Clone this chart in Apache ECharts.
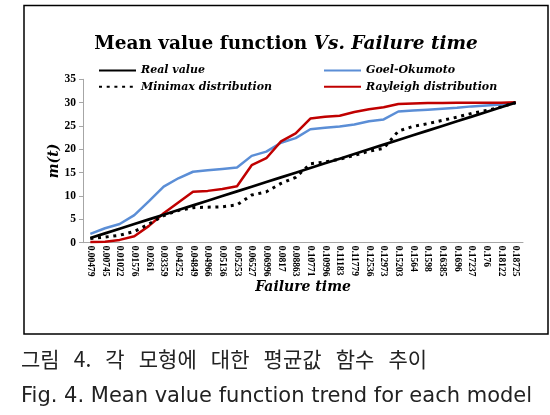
<!DOCTYPE html>
<html>
<head>
<meta charset="utf-8">
<script src="https://cdn.jsdelivr.net/npm/echarts@6/dist/echarts.min.js"></script>
<style>
html,body{margin:0;padding:0;background:#fff;}
#chart{width:550px;height:415px;}
</style>
</head>
<body>
<div id="chart"></div>
<script>
const categories = ['0.00479','0.00745','0.01022','0.01576','0.0261','0.03359','0.04252','0.04849','0.04966','0.05136','0.05253','0.06527','0.06996','0.0817','0.08863','0.10771','0.10996','0.11183','0.11779','0.12536','0.12973','0.15203','0.1564','0.1598','0.16385','0.1696','0.17237','0.176','0.18122','0.18725'];
const realValue = [1,2,3,4,5,6,7,8,9,10,11,12,13,14,15,16,17,18,19,20,21,22,23,24,25,26,27,28,29,30];
const goelOkumoto = [1.9,3.1,4.0,5.9,8.9,12.0,13.8,15.2,15.5,15.8,16.1,18.6,19.5,21.4,22.4,24.3,24.6,24.9,25.3,26.0,26.4,28.1,28.3,28.5,28.7,28.9,29.2,29.4,29.6,29.9];
const minimax = [0.9,1.2,1.6,2.4,4.0,5.8,6.9,7.5,7.6,7.7,8.1,10.2,10.9,12.7,14.0,16.9,17.3,17.9,18.7,19.6,20.2,23.9,24.9,25.5,26.2,26.9,27.7,28.3,29.1,30.0];
const rayleigh = [0.15,0.2,0.6,1.4,3.6,6.3,8.6,10.9,11.1,11.5,12.1,16.6,18.1,21.7,23.4,26.6,27.0,27.2,28.0,28.6,29.0,29.7,29.8,29.9,29.9,30.0,30.0,30.0,30.0,30.1];
const yTicks = {min:0, max:35, interval:5};
const titleMain = 'Mean value function ';
const titleItalic = 'Vs. Failure time';
const captionKo = '그림   4.   각   모형에   대한   평균값   함수   추이';
const captionEn = 'Fig. 4. Mean value function trend for each model';

const serifBI = {fontFamily:'DejaVu Serif', fontWeight:'bold', fontStyle:'italic', color:'#000'};
const hiddenSymbol = {color:'rgba(0,0,0,0)', borderColor:'rgba(0,0,0,0)', borderWidth:0};

const chart = echarts.init(document.getElementById('chart'), null, {renderer:'canvas'});
chart.setOption({
  animation:false,
  backgroundColor:'#fff',
  grid:{left:83, right:27, top:79.3, bottom:172.3},
  legend:[
    {left:93, top:60, orient:'vertical', itemWidth:37, itemHeight:14, itemGap:5,
     data:['Real value','Minimax distribution'], itemStyle:hiddenSymbol,
     textStyle:Object.assign({fontSize:11}, serifBI)},
    {left:318, top:60, orient:'vertical', itemWidth:37, itemHeight:14, itemGap:5,
     data:['Goel-Okumoto','Rayleigh distribution'], itemStyle:hiddenSymbol,
     textStyle:Object.assign({fontSize:11}, serifBI)}
  ],
  xAxis:{
    type:'category', data:categories, boundaryGap:true,
    name:'Failure time', nameLocation:'middle', nameGap:38, nameMoveOverlap:false,
    nameTextStyle:Object.assign({fontSize:14}, serifBI),
    axisLine:{lineStyle:{color:'#a6a6a6', width:1}},
    axisTick:{show:false},
    axisLabel:{interval:0, rotate:-90, margin:3, fontSize:9.5, fontWeight:'bold',
      fontFamily:"'Liberation Serif',serif", color:'#000'}
  },
  yAxis:{
    type:'value', min:yTicks.min, max:yTicks.max, interval:yTicks.interval,
    name:'m(t)', nameLocation:'middle', nameGap:22, nameRotate:90, nameMoveOverlap:false,
    nameTextStyle:Object.assign({fontSize:14}, serifBI),
    axisLine:{show:true, lineStyle:{color:'#a6a6a6', width:1}},
    axisTick:{show:true, length:4, lineStyle:{color:'#a6a6a6'}},
    splitLine:{show:false},
    axisLabel:{margin:7, fontSize:11.5, fontWeight:'bold', fontFamily:'Liberation Serif', color:'#000'}
  },
  series:[
    {name:'Goel-Okumoto', type:'line', data:goelOkumoto, symbol:'none',
     lineStyle:{color:'#5B8ED6', width:2.5}, itemStyle:{color:'#5B8ED6'}},
    {name:'Rayleigh distribution', type:'line', data:rayleigh, symbol:'none',
     lineStyle:{color:'#C00000', width:2.5}, itemStyle:{color:'#C00000'}},
    {name:'Real value', type:'line', data:realValue, symbol:'none',
     lineStyle:{color:'#000', width:2.7}, itemStyle:{color:'#000'}},
    {name:'Minimax distribution', type:'line', data:minimax, symbol:'none',
     lineStyle:{color:'#000', width:3, type:[3,4.7]}, itemStyle:{color:'#000'}}
  ],
  graphic:[
    {type:'rect', shape:{x:24, y:5.5, width:524, height:328.5}, silent:true,
     style:{fill:'none', stroke:'#000', lineWidth:1.5}},
    {type:'text', x:286, y:44, silent:true,
     style:{text:'{a|'+titleMain+'}{b|'+titleItalic+'}', align:'center', verticalAlign:'middle',
       rich:{
         a:{fontFamily:'DejaVu Serif', fontWeight:'bold', fontSize:18.5, fill:'#000'},
         b:{fontFamily:'DejaVu Serif', fontWeight:'bold', fontStyle:'italic', fontSize:18.5, fill:'#000'}
       }}},
    {type:'text', x:21, y:359, silent:true,
     style:{text:captionKo, align:'left', verticalAlign:'middle', fontSize:21,
       fontFamily:"'Noto Sans CJK KR',sans-serif", fill:'#222'}},
    {type:'text', x:21, y:397, silent:true,
     style:{text:captionEn, align:'left', verticalAlign:'middle', fontSize:21,
       fontFamily:"'DejaVu Sans',sans-serif", fill:'#222'}}
  ]
});
</script>
</body>
</html>
